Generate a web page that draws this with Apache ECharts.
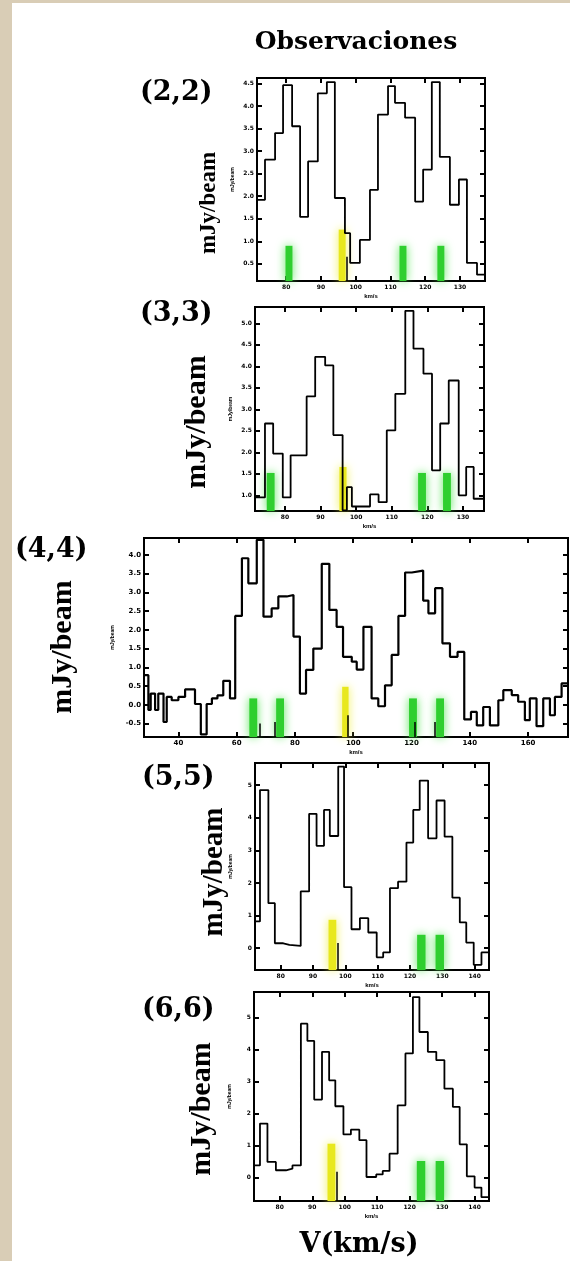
<!DOCTYPE html>
<html>
<head>
<meta charset="utf-8">
<script src="https://cdn.jsdelivr.net/npm/echarts@6/dist/echarts.min.js"></script>
<style>
  html, body { margin: 0; padding: 0; background: #fff; }
  #main { width: 570px; height: 1261px; }
</style>
</head>
<body>
<div id="main"></div>
<script>
// channel edges (km/s) and flux (mJy/beam)
const vel22 = [71.6, 73.9, 76.8, 79.1, 81.7, 84.0, 86.3, 89.1, 91.7, 94.0, 96.9, 98.4, 101.2, 104.1, 106.4, 109.3, 111.3, 114.2, 117.1, 119.4, 121.9, 124.2, 127.1, 129.7, 132.0, 134.9, 137.2]
const flux22 = [1.92, 2.81, 3.40, 4.46, 3.55, 1.54, 2.77, 4.28, 4.53, 1.96, 1.18, 0.52, 1.03, 2.14, 3.81, 4.44, 4.07, 3.74, 1.88, 2.59, 4.53, 2.87, 1.81, 2.37, 0.52, 0.26]

const vel33 = [71.6, 74.4, 76.7, 79.4, 81.6, 83.9, 86.1, 88.5, 91.3, 93.6, 96.2, 97.4, 98.8, 101.4, 103.9, 106.3, 108.6, 111.0, 113.8, 116.1, 118.9, 121.3, 123.6, 126.0, 128.8, 130.9, 133.0, 135.9]
const flux33 = [0.95, 2.67, 1.97, 0.95, 1.93, 1.93, 3.30, 4.22, 4.02, 2.40, 0.65, 1.19, 0.74, 0.74, 1.02, 0.84, 2.51, 3.36, 5.29, 4.41, 3.83, 1.58, 2.67, 3.67, 1.00, 1.66, 0.92]

const vel44 = [28.2, 29.7, 30.5, 32.0, 33.1, 34.9, 36.0, 37.7, 40.0, 42.3, 45.7, 47.7, 49.7, 51.5, 53.4, 55.4, 57.7, 59.5, 61.8, 64.0, 66.9, 69.2, 72.0, 74.3, 77.2, 79.5, 81.7, 83.8, 86.3, 89.2, 91.8, 94.3, 96.5, 99.5, 101.2, 103.5, 106.3, 108.6, 110.9, 113.2, 115.5, 117.8, 120.1, 124.0, 125.8, 128.1, 130.6, 133.2, 135.8, 138.1, 140.4, 142.4, 144.6, 146.9, 149.8, 151.5, 154.4, 156.6, 158.9, 160.6, 162.9, 165.2, 167.5, 169.2, 171.5, 173.7]
const flux44 = [0.79, -0.14, 0.30, -0.14, 0.30, -0.46, 0.21, 0.12, 0.21, 0.41, 0.02, -0.79, 0.02, 0.17, 0.25, 0.64, 0.17, 2.37, 3.91, 3.24, 4.40, 2.35, 2.57, 2.89, 2.93, 1.82, 0.30, 0.93, 1.50, 3.76, 2.53, 2.08, 1.28, 1.15, 0.94, 2.08, 0.17, -0.04, 0.52, 1.33, 2.37, 3.53, 3.58, 2.78, 2.44, 3.11, 1.64, 1.28, 1.41, -0.39, -0.19, -0.55, -0.06, -0.55, 0.12, 0.39, 0.26, 0.08, -0.41, 0.17, -0.57, 0.17, -0.28, 0.21, 0.57]

const vel55 = [72.06, 73.6, 76.2, 78.2, 80.8, 82.7, 86.2, 88.8, 91.1, 93.4, 95.2, 97.8, 99.6, 101.9, 104.5, 107.1, 109.7, 111.7, 113.8, 116.3, 118.9, 121.0, 123.0, 125.6, 128.2, 130.7, 133.1, 135.4, 137.4, 139.7, 142.1, 144.43]
const flux55 = [0.82, 4.85, 1.38, 0.15, 0.10, 0.07, 1.74, 4.12, 3.14, 4.24, 3.44, 5.57, 1.87, 0.58, 0.92, 0.48, -0.28, -0.13, 1.84, 2.04, 3.24, 4.24, 5.14, 3.37, 4.53, 3.42, 1.55, 0.79, 0.17, -0.51, -0.13]

const vel66 = [72.06, 73.9, 76.2, 78.8, 81.9, 83.9, 86.5, 88.5, 90.6, 93.0, 95.2, 97.1, 99.6, 101.9, 104.5, 106.7, 109.7, 111.7, 113.8, 116.3, 118.7, 121.0, 123.0, 125.6, 128.2, 130.7, 133.3, 135.4, 137.6, 140.0, 142.1, 144.43]
const flux66 = [0.38, 1.69, 0.49, 0.23, 0.28, 0.38, 4.81, 4.27, 2.44, 3.93, 3.04, 2.23, 1.35, 1.50, 1.17, 0.02, 0.10, 0.21, 0.75, 2.26, 3.88, 5.64, 4.55, 3.93, 3.67, 2.78, 2.21, 1.04, 0.04, -0.31, -0.61]

// marker positions [velocity, top]
const green22 = [[80.8, 0.9], [113.6, 0.9], [124.5, 0.9]]
const yellow22 = [[96.1, 1.26]]
const green33 = [[76.0, 1.52], [118.5, 1.52], [125.5, 1.52]]
const yellow33 = [[96.3, 1.66]]
const green44 = [[65.7, 0.17], [74.9, 0.17], [120.5, 0.17], [129.8, 0.17]]
const yellow44 = [[97.3, 0.48]]
const green55 = [[123.5, 0.41], [129.2, 0.41]]
const yellow55 = [[96.0, 0.87]]
const green66 = [[123.5, 0.52], [129.3, 0.52]]
const yellow66 = [[95.9, 1.06]]

// thin black ticks inside the markers [velocity, top]
const spikes22 = [[97.5, 0.66]]
const spikes44 = [[68.0, -0.5], [73.2, -0.46], [98.0, -0.28], [121.2, -0.46], [128.1, -0.46]]
const spikes55 = [[97.6, 0.16]]
const spikes66 = [[97.6, 0.18]]

// axis ranges and tick labels
const xRange22 = [71.6, 137.2], yRange22 = [0.12, 4.62]
const xRange33 = [71.6, 135.9], yRange33 = [0.635, 5.38]
const xRange44 = [28.2, 173.7], yRange44 = [-0.86, 4.45]
const xRange55 = [72.06, 144.43], yRange55 = [-0.67, 5.68]
const xRange66 = [72.06, 144.43], yRange66 = [-0.73, 5.8]
const xTicks22 = [80, 90, 100, 110, 120, 130]
const xTicks33 = [80, 90, 100, 110, 120, 130]
const xTicks44 = [40, 60, 80, 100, 120, 140, 160]
const xTicks55 = [80, 90, 100, 110, 120, 130, 140]
const xTicks66 = [80, 90, 100, 110, 120, 130, 140]
const yTicks22 = [0.5, 1.0, 1.5, 2.0, 2.5, 3.0, 3.5, 4.0, 4.5]
const yTicks33 = [1.0, 1.5, 2.0, 2.5, 3.0, 3.5, 4.0, 4.5, 5.0]
const yTicks44 = [-0.5, 0.0, 0.5, 1.0, 1.5, 2.0, 2.5, 3.0, 3.5, 4.0]
const yTicks55 = [0, 1, 2, 3, 4, 5]
const yTicks66 = [0, 1, 2, 3, 4, 5]

const panelNames = ['(2,2)', '(3,3)', '(4,4)', '(5,5)', '(6,6)']

// layout (pixels)
const panels = [
  { vel: vel22, flux: flux22, green: green22, yellow: yellow22, spikes: spikes22, xr: xRange22, yr: yRange22, xt: xTicks22, yt: yTicks22, dec: 1,
    grid: [257, 78, 228, 203], gw: 2.0, yw: 2.0, label: [140, 93], ylab: [209, 203, 23], lab: 6 },
  { vel: vel33, flux: flux33, green: green33, yellow: yellow33, spikes: [], xr: xRange33, yr: yRange33, xt: xTicks33, yt: yTicks33, dec: 1,
    grid: [255, 307, 229, 204], gw: 2.2, yw: 2.0, label: [140, 314], ylab: [197, 422, 30], lab: 6 },
  { vel: vel44, flux: flux44, green: green44, yellow: yellow44, spikes: spikes44, xr: xRange44, yr: yRange44, xt: xTicks44, yt: yTicks44, dec: 1,
    grid: [144, 538, 424, 199], gw: 2.7, yw: 2.2, label: [15, 550], ylab: [63, 647, 30], lab: 7 },
  { vel: vel55, flux: flux55, green: green55, yellow: yellow55, spikes: spikes55, xr: xRange55, yr: yRange55, xt: xTicks55, yt: yTicks55, dec: 0,
    grid: [255, 763, 234, 207], gw: 2.6, yw: 2.4, label: [142, 778], ylab: [215, 872, 29], lab: 6 },
  { vel: vel66, flux: flux66, green: green66, yellow: yellow66, spikes: spikes66, xr: xRange66, yr: yRange66, xt: xTicks66, yt: yTicks66, dec: 0,
    grid: [254, 992, 235, 209], gw: 2.6, yw: 2.4, label: [142, 1010], ylab: [202, 1109, 30], lab: 6 }
]

const grids = [], xAxes = [], yAxes = [], series = []
const tickStyle = { color: '#000', width: 2 }

panels.forEach((p, i) => {
  grids.push({
    left: p.grid[0], top: p.grid[1], width: p.grid[2], height: p.grid[3],
    show: true, backgroundColor: '#fff', borderColor: '#000', borderWidth: 2
  })
  const labelStyle = {
    fontSize: p.lab, fontWeight: 'bold', color: '#000', fontFamily: 'DejaVu Sans'
  }
  ;['bottom', 'top'].forEach(pos => {
    xAxes.push({
      type: 'value', gridIndex: i, position: pos, min: p.xr[0], max: p.xr[1],
      axisLine: { show: false, onZero: false }, splitLine: { show: false },
      axisTick: { show: true, inside: true, length: 5, customValues: p.xt, lineStyle: tickStyle },
      axisLabel: Object.assign({ show: pos === 'bottom', margin: 3, customValues: p.xt }, labelStyle),
      name: pos === 'bottom' ? 'km/s' : '', nameLocation: 'middle', nameGap: 12,
      nameTextStyle: { fontSize: 6, fontWeight: 'bold', color: '#000' }
    })
  })
  ;['left', 'right'].forEach(pos => {
    yAxes.push({
      type: 'value', gridIndex: i, position: pos, min: p.yr[0], max: p.yr[1],
      axisLine: { show: false, onZero: false }, splitLine: { show: false },
      axisTick: { show: true, inside: true, length: 5, customValues: p.yt, lineStyle: tickStyle },
      axisLabel: Object.assign({
        show: pos === 'left', margin: 3, customValues: p.yt,
        formatter: v => v.toFixed(p.dec)
      }, labelStyle),
      name: pos === 'left' ? 'mJy/beam' : '', nameLocation: 'middle', nameGap: 22, nameRotate: 90,
      nameTextStyle: { fontSize: 5, fontWeight: 'bold', color: '#000' }
    })
  })

  const ymin = p.yr[0]
  const areas = []
  p.green.forEach(g => {
    areas.push([
      { coord: [g[0] - p.gw / 2, ymin], itemStyle: { color: '#2fcf2f', shadowBlur: 10, shadowColor: 'rgba(90,230,90,1)' } },
      { coord: [g[0] + p.gw / 2, g[1]] }
    ])
  })
  p.yellow.forEach(g => {
    areas.push([
      { coord: [g[0] - p.yw / 2, ymin], itemStyle: { color: '#e8e81e', shadowBlur: 10, shadowColor: 'rgba(240,240,80,1)' } },
      { coord: [g[0] + p.yw / 2, g[1]] }
    ])
  })
  const lines = p.spikes.map(s => [{ coord: [s[0], ymin] }, { coord: [s[0], s[1]] }])

  const n = p.flux.length
  series.push({
    type: 'line', xAxisIndex: 2 * i, yAxisIndex: 2 * i, step: 'end',
    symbol: 'none', showSymbol: false, silent: true,
    lineStyle: { color: '#000', width: i === 2 ? 2.2 : 1.8 },
    data: p.vel.map((v, k) => [v, p.flux[Math.min(k, n - 1)]]),
    markArea: { silent: true, data: areas },
    markLine: {
      silent: true, symbol: 'none', label: { show: false },
      lineStyle: { color: '#000', width: 1.5, type: 'solid' }, data: lines
    },
    z: 3
  })
})

function txt(x, y, s, font, rot, align) {
  return {
    type: 'text', x: x, y: y, rotation: rot || 0, z: 10,
    style: {
      text: s, font: font, fill: '#000',
      align: align || 'center', verticalAlign: 'middle',
      textAlign: align || 'center', textVerticalAlign: 'middle'
    }
  }
}

const graphics = [
  { type: 'rect', shape: { x: 0, y: 0, width: 12, height: 1261 }, style: { fill: '#d9cdb6' }, z: 0 },
  { type: 'rect', shape: { x: 0, y: 0, width: 570, height: 3 }, style: { fill: '#d9cdb6' }, z: 0 },
  txt(356, 42, 'Observaciones', 'bold 25px "DejaVu Serif"'),
  txt(359, 1245, 'V(km/s)', 'bold 27px "DejaVu Serif"')
]
panels.forEach((p, i) => {
  graphics.push(txt(p.label[0], p.label[1], panelNames[i], 'bold 27px "DejaVu Serif"', 0, 'left'))
  graphics.push(txt(p.ylab[0], p.ylab[1], 'mJy/beam', 'bold ' + p.ylab[2] + 'px "Liberation Serif"', Math.PI / 2))
})

const chart = echarts.init(document.getElementById('main'))
chart.setOption({
  animation: false,
  backgroundColor: '#fff',
  grid: grids,
  xAxis: xAxes,
  yAxis: yAxes,
  series: series,
  graphic: graphics
})
</script>
</body>
</html>
